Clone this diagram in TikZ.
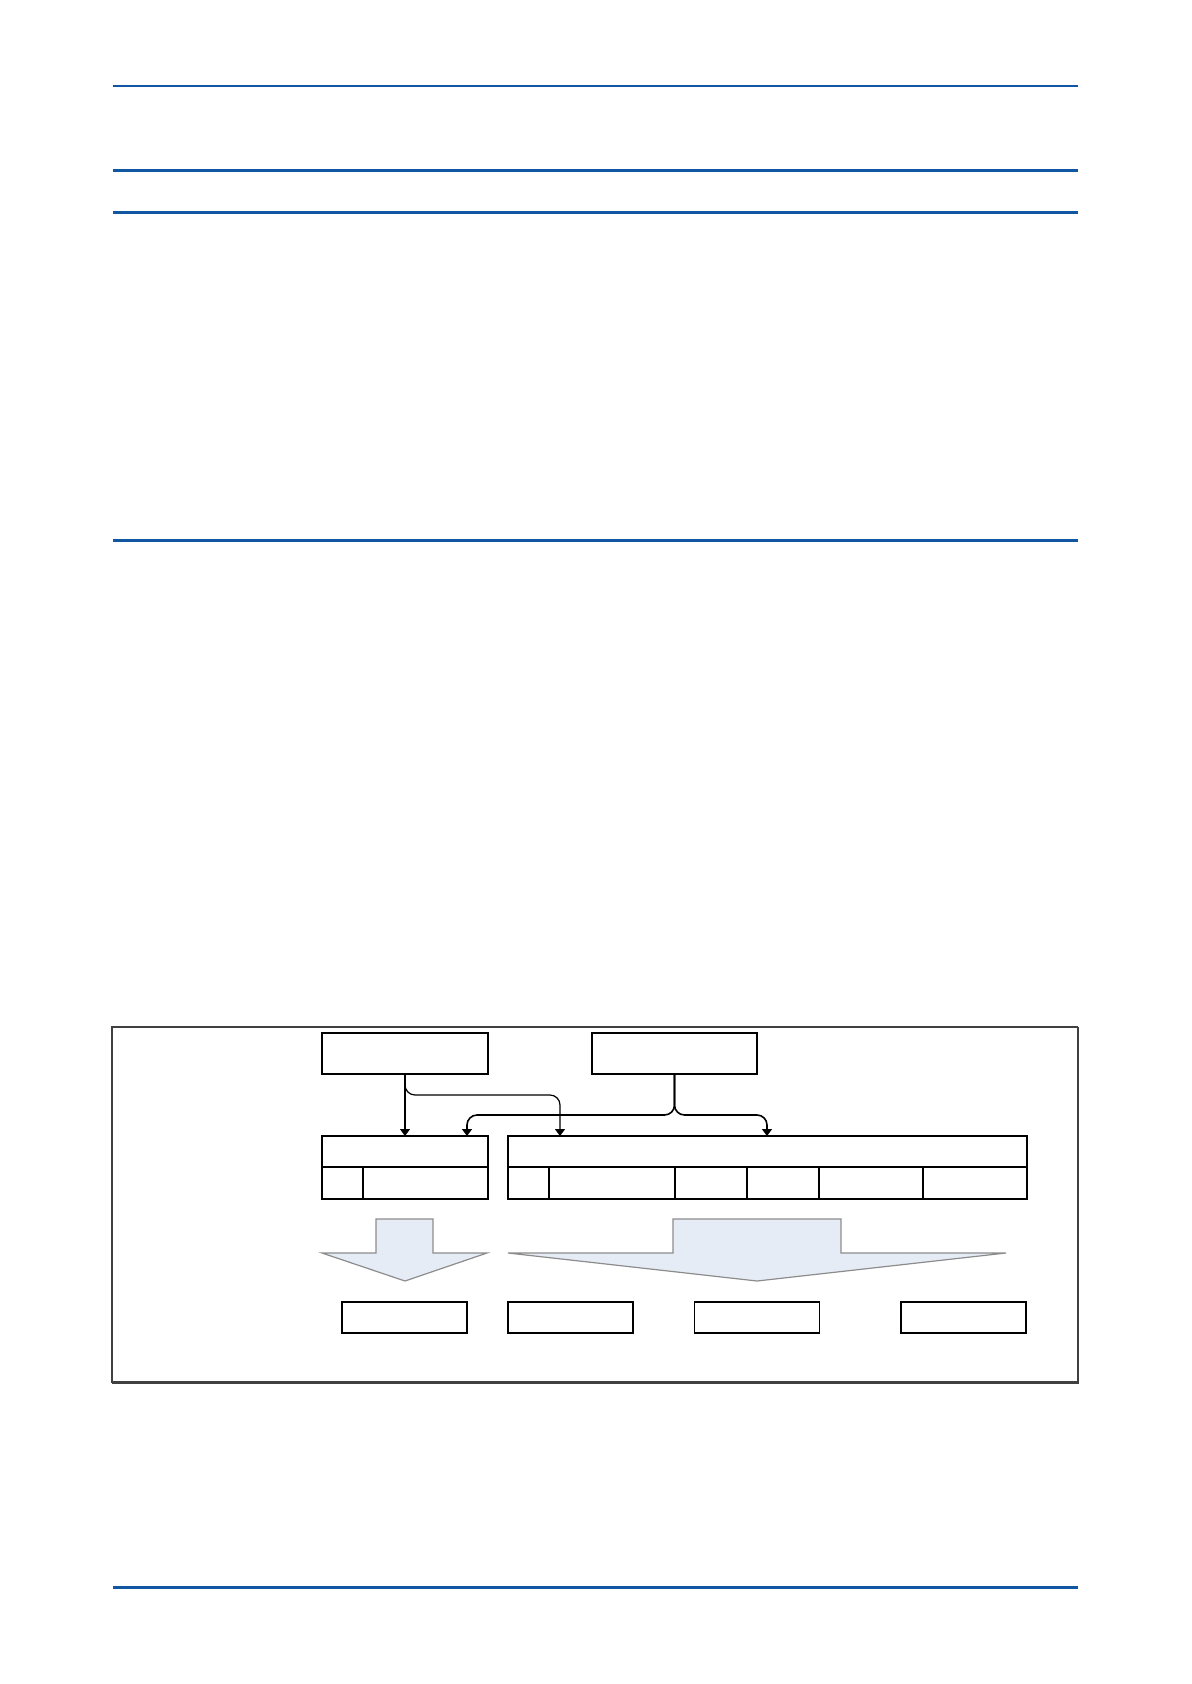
\documentclass[tikz,border=0pt]{standalone}
\usepackage{xcolor}
\usepackage{tikz}
\usetikzlibrary{arrows.meta, positioning}

\definecolor{rulerblue}{RGB}{17,86,163}
\definecolor{framegray}{RGB}{64,64,64}
\definecolor{flowfill}{RGB}{230,236,246}
\definecolor{flowline}{RGB}{140,140,140}

\begin{document}
\begin{tikzpicture}[
        x=0.5pt, y=-0.5pt,
        rulerline/.style={draw=rulerblue, line width=1.5pt},
        box/.style={rectangle, draw, line width=0.7pt, inner sep=0pt, outer sep=0pt, minimum height=20.5pt},
        cell/.style={rectangle, draw, line width=0.7pt, inner sep=0pt, outer sep=0pt, minimum height=16pt, anchor=north west},
        outbox/.style={rectangle, draw, line width=0.7pt, inner sep=0pt, outer sep=0pt, minimum width=62.5pt, minimum height=15.5pt},
        link/.style={-{Triangle[width=5pt,length=3.5pt]}, line width=0.6pt, rounded corners=5pt},
        flow/.style={draw=flowline, fill=flowfill, line width=0.6pt}
        ]

        \useasboundingbox (0,0) rectangle (1191,1684);

        % page rules
        \draw[rulerline, line width=1pt] (113,86) -- (1078,86);
        \foreach \yy in {171,213,540,1587}
            \draw[rulerline] (113,\yy) -- (1078,\yy);

        % frame
        \draw[framegray, line width=0.75pt] (112,1383) -- (112,1027) -- (1078,1027);
        \draw[framegray, line width=1.2pt] (112,1382.5) -- (1078,1382.5) -- (1078,1027);

        % sources
        \node[box, minimum width=83pt] (srcA) at (405,1053.5) {};
        \node[box, minimum width=82.5pt] (srcB) at (674.5,1053.5) {};

        % left block
        \node[cell, minimum width=83pt, minimum height=15.5pt] (lhead) at (322,1136) {};
        \node[cell, minimum width=20.5pt] (lc1) at (lhead.south west) {};
        \node[cell, minimum width=62.5pt] (lc2) at (lc1.north east) {};

        % right block
        \node[cell, minimum width=259.5pt, minimum height=15.5pt] (rhead) at (508,1136) {};
        \node[cell, minimum width=20.5pt] (rc1) at (rhead.south west) {};
        \node[cell, minimum width=63pt] (rc2) at (rc1.north east) {};
        \node[cell, minimum width=36pt] (rc3) at (rc2.north east) {};
        \node[cell, minimum width=36pt] (rc4) at (rc3.north east) {};
        \node[cell, minimum width=52pt] (rc5) at (rc4.north east) {};
        \node[cell, minimum width=52pt] (rc6) at (rc5.north east) {};

        % targets
        \coordinate (inA) at (405,1136);
        \coordinate (inL) at (467,1136);
        \coordinate (inR) at (560,1136);
        \coordinate (inS) at (767,1136);

        % connectors
        \draw[link] (srcA.south) -- (inA);
        \draw[link] (srcA.south) -- (405,1095) -- (560,1095) -- (inR);
        \draw[link, line width=0.8pt] (srcB.south) -- (674.5,1115) -- (467,1115) -- (inL);
        \draw[link, line width=0.8pt] (srcB.south) -- (674.5,1115) -- (767,1115) -- (inS);

        % big arrows
        \draw[flow] (376,1219) -- (433,1219) -- (433,1253) -- (487,1253)
            -- (405,1281) -- (322,1253) -- (376,1253) -- cycle;
        \draw[flow] (673,1219) -- (841,1219) -- (841,1253) -- (1006,1253)
            -- (757,1281) -- (508,1253) -- (673,1253) -- cycle;

        % results
        \node[outbox] (res1) at (404.5,1317.5) {};
        \node[outbox] (res2) at (570.5,1317.5) {};
        \node[outbox] (res3) at (757,1317.5) {};
        \node[outbox] (res4) at (963.5,1317.5) {};

    \end{tikzpicture}
\end{document}
